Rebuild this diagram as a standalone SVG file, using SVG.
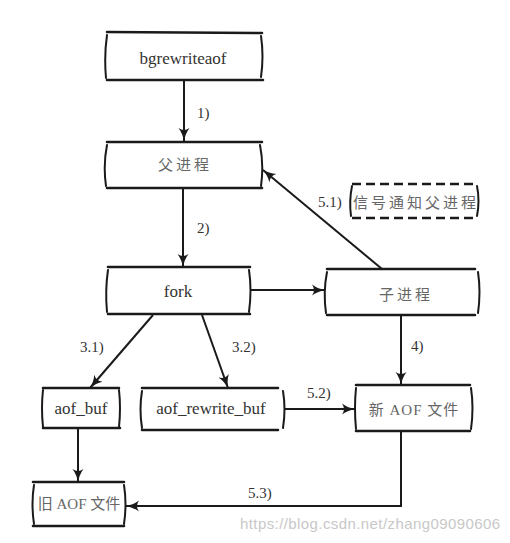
<svg xmlns="http://www.w3.org/2000/svg" width="510" height="543" viewBox="0 0 510 543">
<defs>
<marker id="ah" markerUnits="userSpaceOnUse" markerWidth="14" markerHeight="12" viewBox="0 0 14 12" refX="13" refY="6" orient="auto">
<path d="M0,0.5 Q6,5 14,6 Q6,7 0,11.5 Q4,6 0,0.5 Z" fill="#1a1a1a"/>
</marker>
<style>
.bx{fill:none;stroke:#1a1a1a;stroke-width:2.6;stroke-linecap:round}
.sd{fill:none;stroke:#1a1a1a;stroke-width:2;stroke-linecap:round}
.ds{fill:none;stroke:#1a1a1a;stroke-width:2.6;stroke-dasharray:9 5}
.cn{fill:none;stroke:#1a1a1a;stroke-width:2;marker-end:url(#ah)}
.t{font-size:17px;fill:#333;text-anchor:middle}
.c{font-size:15px;fill:#666;text-anchor:middle;letter-spacing:3px}
.l{font-size:15px;fill:#333}
.w{font-size:15px;fill:#c8c8c8}
</style>
</defs>
<rect width="510" height="543" fill="#ffffff"/>

<g id="connectors">
<path class="cn" d="M184,81 L184,141"/>
<path class="cn" d="M183,188 L183,267"/>
<path class="cn" d="M250,290 L325,290"/>
<path class="cn" d="M382,269 L263,170"/>
<path class="cn" d="M153,315 L90,388"/>
<path class="cn" d="M202,315 L228,388"/>
<path class="cn" d="M401,315 L401,385"/>
<path class="cn" d="M284,409 L355,409"/>
<path class="cn" d="M78,428 L78,482"/>
<path class="cn" d="M401,431 L401,506 L126,506"/>
<g font-family="Liberation Serif, DejaVu Serif, serif">
<text class="l" x="197" y="118">1)</text>
<text class="l" x="197" y="233">2)</text>
<text class="l" x="318" y="207">5.1)</text>
<text class="l" x="80" y="352">3.1)</text>
<text class="l" x="232" y="352">3.2)</text>
<text class="l" x="411" y="351">4)</text>
<text class="l" x="307" y="398">5.2)</text>
<text class="l" x="248" y="498">5.3)</text>
</g>
</g>

<g id="bgrewriteaof">
<path class="bx" d="M107,32 L262,33 M107,80 L263,80"/>
<path class="sd" d="M107,35 Q104,56 106,78 M261,36 Q264,56 261,77"/>
<text class="t" x="183" y="64" font-family="Liberation Serif, DejaVu Serif, serif">bgrewriteaof</text>
</g>

<g id="parent">
<path class="bx" d="M107,142 L262,142 M107,188 L262,188"/>
<path class="sd" d="M107,145 Q103,165 106,186 M260,145 Q264,165 261,186"/>
<text class="c" x="185" y="170" font-family="Noto Sans CJK SC, sans-serif">父进程</text>
</g>

<g id="signal">
<path class="ds" d="M352,184 L478,184 M352,218 L478,218"/>
<path class="sd" d="M352,186 Q349,201 351,216 M477,186 Q480,201 477,216"/>
<text class="c" x="416" y="208" font-family="Noto Sans CJK SC, sans-serif">信号通知父进程</text>
</g>

<g id="fork">
<path class="bx" d="M108,267 L250,267 M108,314 L250,314"/>
<path class="sd" d="M108,270 Q105,290 107,312 M249,270 Q252,290 249,312"/>
<text class="t" x="178" y="297" font-family="Liberation Serif, DejaVu Serif, serif">fork</text>
</g>

<g id="child">
<path class="bx" d="M327,269 L475,269 M327,315 L475,315"/>
<path class="sd" d="M327,272 Q323,292 326,313 M478,272 Q481,292 478,313"/>
<text class="c" x="406" y="300" font-family="Noto Sans CJK SC, sans-serif">子进程</text>
</g>

<g id="aof_buf">
<path class="bx" d="M43,388 L119,388 M43,428 L120,428"/>
<path class="sd" d="M43,390 Q41,408 43,427 M119,390 Q121,408 119,427"/>
<text class="t" x="81" y="414" font-family="Liberation Serif, DejaVu Serif, serif">aof_buf</text>
</g>

<g id="aof_rewrite_buf">
<path class="bx" d="M142,388 L278,388 M142,430 L278,430"/>
<path class="sd" d="M142,391 Q139,409 142,428 M283,391 Q286,409 283,428"/>
<text class="t" x="211" y="414" font-family="Liberation Serif, DejaVu Serif, serif">aof_rewrite_buf</text>
</g>

<g id="new_aof">
<path class="bx" d="M356,385 L470,385 M356,431 L470,431"/>
<path class="sd" d="M356,388 Q354,408 356,429 M471,388 Q474,408 471,429"/>
<text class="c" x="414" y="415" style="letter-spacing:1px" font-family="Liberation Serif, Noto Sans CJK SC, serif">新 AOF 文件</text>
</g>

<g id="old_aof">
<path class="bx" d="M33,482 L124,482 M33,526 L124,526"/>
<path class="sd" d="M34,485 Q31,504 34,524 M124,485 Q127,504 124,524"/>
<text class="c" x="79" y="509" style="letter-spacing:0px" font-family="Liberation Serif, Noto Sans CJK SC, serif">旧 AOF 文件</text>
</g>

<text class="w" x="240" y="529" textLength="260" font-family="Liberation Sans, sans-serif">https://blog.csdn.net/zhang09090606</text>
</svg>
